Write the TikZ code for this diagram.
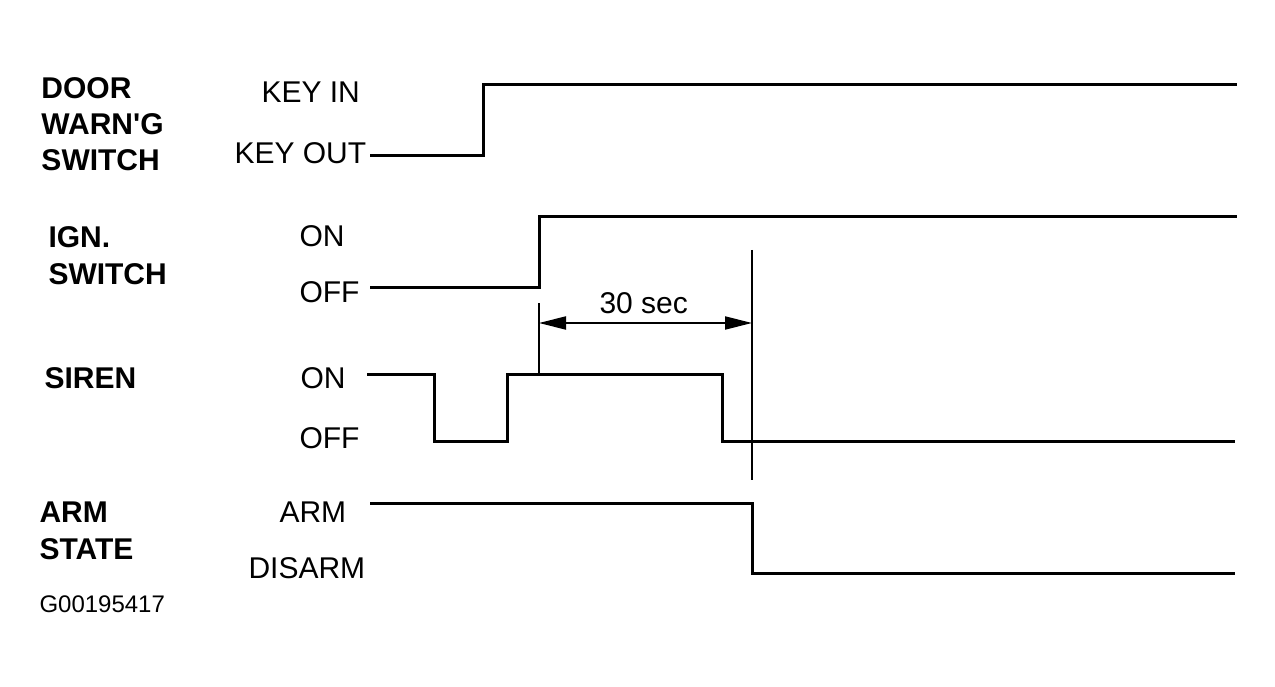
\documentclass[tikz,border=0pt]{standalone}
\usepackage{fontspec}
\setmainfont{Liberation Sans}[Ligatures=TeXOff]
\usetikzlibrary{arrows.meta}
\begin{document}
\begin{tikzpicture}[x=1pt,y=-1pt,line width=3pt,
  sig/.style={line width=3pt,line join=miter},
  guide/.style={line width=2pt},
  dim/.style={line width=2pt,{Triangle[length=27pt,width=13pt]}-{Triangle[length=27pt,width=13pt]}},
  title/.style={anchor=base west,inner sep=0pt,font=\fontsize{30}{36}\selectfont\bfseries},
  level/.style={anchor=base west,inner sep=0pt,font=\fontsize{30}{36}\selectfont},
  tag/.style={anchor=base west,inner sep=0pt,font=\fontsize{24}{30}\selectfont}]
\useasboundingbox (0,0) rectangle (1275,687);
\node[title] (door) at (40,99) {DOOR};
\node[title] (warn) at (40,135) {WARN'G};
\node[title] (doorsw) at (40,171) {SWITCH};
\node[title] (ign) at (47,248) {IGN.};
\node[title] (ignsw) at (47,285) {SWITCH};
\node[title] (siren) at (43,388) {SIREN};
\node[title] (arm) at (38,522) {ARM};
\node[title] (state) at (38,559) {STATE};
\node[tag] (fig) at (38,612) {G00195417};
\node[level] (keyin) at (260,103) {KEY IN};
\node[level] (keyout) at (233,164) {KEY OUT};
\node[level] (ignon) at (298,247) {ON};
\node[level] (ignoff) at (298,302) {OFF};
\node[level] (sirenon) at (299,388) {ON};
\node[level] (sirenoff) at (298,448) {OFF};
\node[level] (armon) at (278,522) {ARM};
\node[level] (armoff) at (247,578) {DISARM};
\coordinate (d0) at (370,156);
\coordinate (i0) at (370,288);
\coordinate (s0) at (367,374);
\coordinate (a0) at (370,503);
\draw[sig] (d0) -| (483,85) -- (1237,85);
\draw[sig] (i0) -| (539,217) -- (1237,217);
\draw[sig] (s0) -| (434,441) -| (507,374) -| (722,441) -- (1235,441);
\draw[sig] (a0) -| (752,573) -- (1235,573);
\coordinate (t0) at (539,323);
\coordinate (t1) at (752,323);
\draw[guide] (539,303) -- (539,374);
\draw[guide] (752,250) -- (752,480);
\draw[dim] (t0) -- (t1);
\node[level] (delay) at (598,313) {30 sec};
\end{tikzpicture}
\end{document}
